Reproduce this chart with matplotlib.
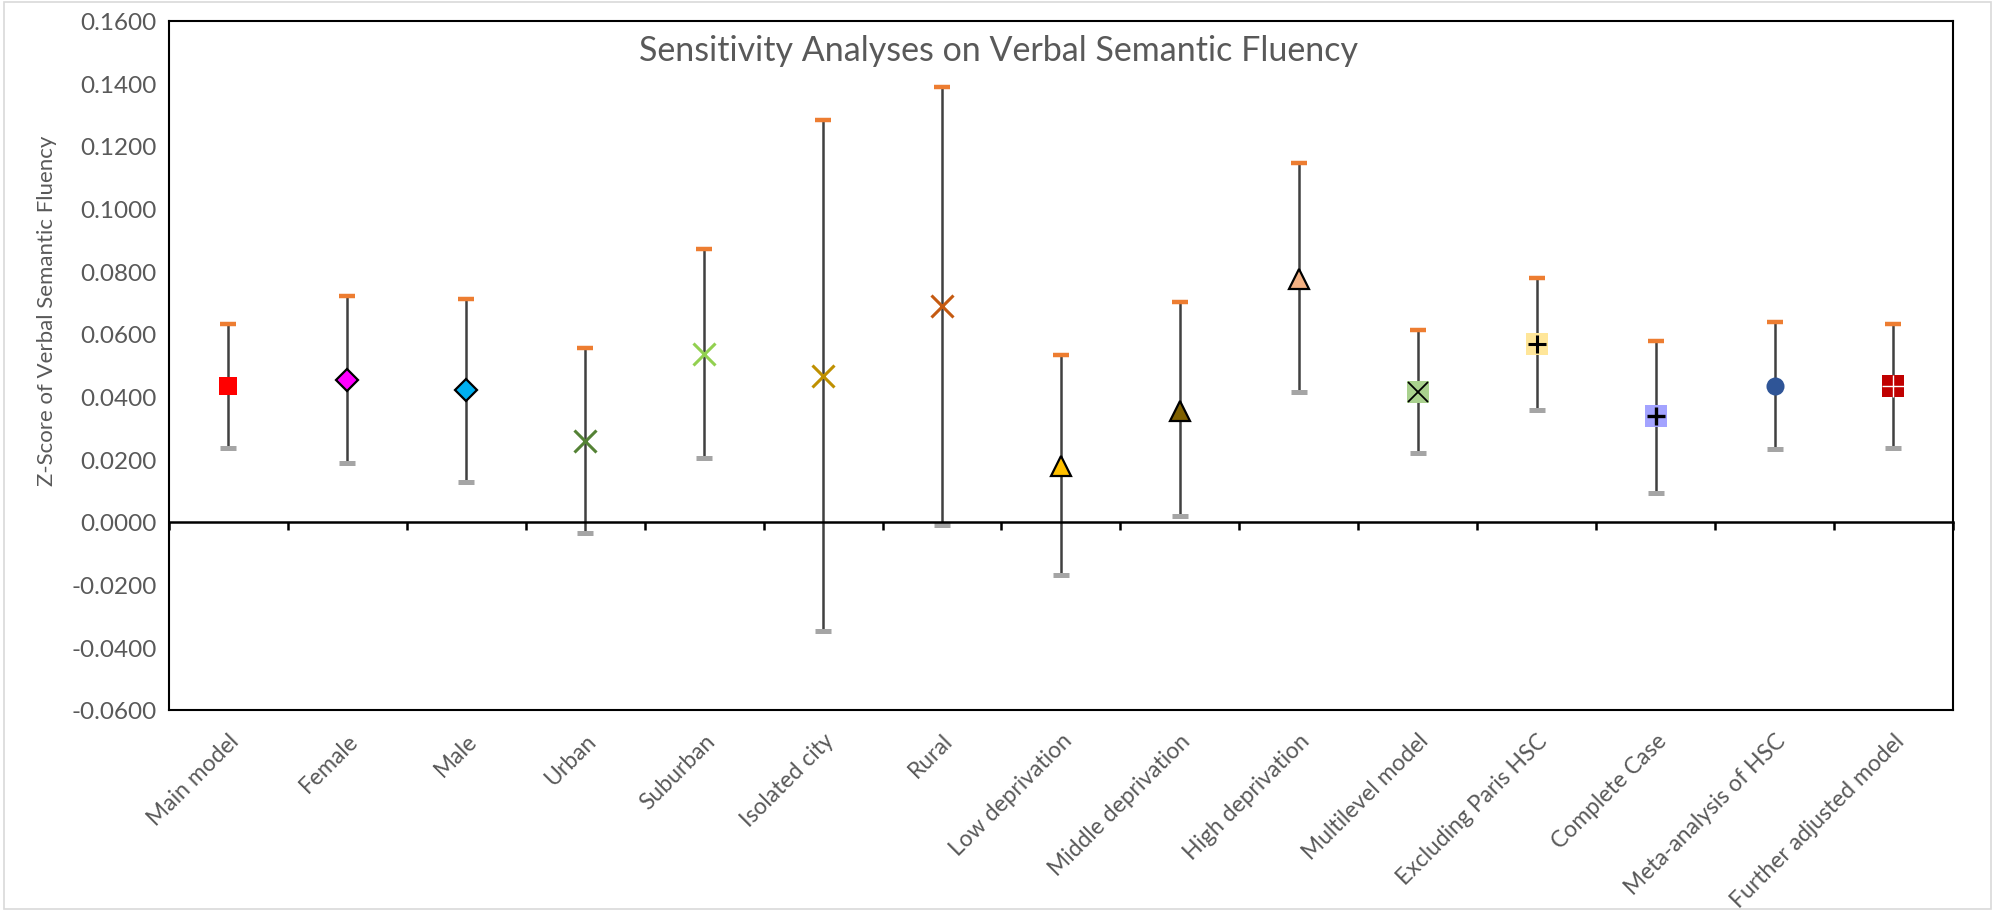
import numpy as np
import matplotlib.pyplot as plt
from matplotlib.patches import Rectangle

plt.rcParams['font.family'] = ['Lato', 'DejaVu Sans']

# Sensitivity analyses: point estimate and 95% CI for each model
labels = ['Main model', 'Female', 'Male', 'Urban', 'Suburban', 'Isolated city',
          'Rural', 'Low deprivation', 'Middle deprivation', 'High deprivation',
          'Multilevel model', 'Excluding Paris HSC', 'Complete Case',
          'Meta-analysis of HSC', 'Further adjusted model']
estimate = [0.0434, 0.0454, 0.0420, 0.0260, 0.0536, 0.0466, 0.0690, 0.0180,
            0.0355, 0.0776, 0.0415, 0.0567, 0.0338, 0.0435, 0.0435]
ci_upper = [0.0633, 0.0722, 0.0713, 0.0556, 0.0871, 0.1283, 0.1387, 0.0533,
            0.0701, 0.1147, 0.0612, 0.0778, 0.0579, 0.0638, 0.0633]
ci_lower = [0.0236, 0.0188, 0.0127, -0.0036, 0.0203, -0.0349, -0.0011, -0.0168,
            0.0018, 0.0416, 0.0219, 0.0357, 0.0094, 0.0232, 0.0236]

# marker, face colour, edge colour, size, edge width, optional overlay (marker, colour, size, width)
styles = [
    ('s', '#FF0000', 'none', 13, 0, None),
    ('D', '#FF00FF', 'black', 11, 1.6, None),
    ('D', '#00B0F0', 'black', 11, 1.6, None),
    ('x', '#548235', '#548235', 16, 2.2, None),
    ('x', '#92D050', '#92D050', 16, 2.2, None),
    ('x', '#BF9000', '#BF9000', 16, 2.2, None),
    ('x', '#C55A11', '#C55A11', 16, 2.2, None),
    ('^', '#FFC000', 'black', 15, 1.6, None),
    ('^', '#7F6000', 'black', 15, 1.6, None),
    ('^', '#F4B183', 'black', 15, 1.6, None),
    ('s', '#A9D18E', 'none', 16, 0, ('x', 'black', 15, 1.3)),
    ('s', '#FFE699', 'none', 16, 0, ('+', 'black', 13, 2.2)),
    ('s', '#A3A3FF', 'none', 16, 0, ('+', 'black', 13, 2.4)),
    ('o', '#2F5597', 'none', 13, 0, None),
    ('s', '#C00000', 'none', 16, 0, ('+', 'white', 16, 1.0)),
]

x = np.arange(1, len(labels) + 1)
text_grey = '#595959'

fig = plt.figure(figsize=(19.95, 9.12), dpi=100)
ax = fig.add_axes([0.0847, 0.2204, 0.8942, 0.7559])

# confidence interval lines and caps
ax.vlines(x, ci_lower, ci_upper, color='#404040', lw=1.8, zorder=2)
ax.plot(x, ci_upper, ls='none', marker='_', ms=11, mew=3.2, color='#ED7D31', zorder=3)
ax.plot(x, ci_lower, ls='none', marker='_', ms=12, mew=3.6, color='#A5A5A5', zorder=3)

for xi, yi, (m, fc, ec, ms, mew, over) in zip(x, estimate, styles):
    ax.plot(xi, yi, ls='none', marker=m, ms=ms, mfc=fc, mec=ec if ec != 'none' else fc,
            mew=mew, zorder=4)
    if over is not None:
        om, oc, oms, omw = over
        ax.plot(xi, yi, ls='none', marker=om, ms=oms, color=oc, mew=omw, zorder=5)

ax.set_xlim(0.5, len(labels) + 0.5)
ax.set_ylim(-0.06, 0.16)
ax.set_yticks(np.arange(-0.06, 0.1601, 0.02))
ax.yaxis.set_major_formatter(plt.FormatStrFormatter('%.4f'))
ax.tick_params(axis='y', length=0, pad=9, labelsize=17.5, labelcolor=text_grey)

ax.set_xticks(x)
ax.set_xticklabels(labels, rotation=45, ha='right', va='top', rotation_mode='anchor')
ax.tick_params(axis='x', length=0, pad=14, labelsize=16.5, labelcolor=text_grey)

for s in ax.spines.values():
    s.set_linewidth(1.5)
    s.set_color('black')

# horizontal axis at zero with category boundary ticks
zero_ax = ax.twiny()
zero_ax.set_xlim(ax.get_xlim())
zero_ax.spines['bottom'].set_position(('data', 0))
zero_ax.spines['bottom'].set_linewidth(1.8)
for side in ['top', 'left', 'right']:
    zero_ax.spines[side].set_visible(False)
zero_ax.xaxis.set_ticks_position('bottom')
zero_ax.set_xticks(np.arange(0.5, len(labels) + 1, 1.0))
zero_ax.tick_params(axis='x', direction='out', length=6, width=1.8, labelbottom=False,
                    labeltop=False, color='black')

ax.set_ylabel('Z-Score of Verbal Semantic Fluency', fontsize=16, color=text_grey)
ax.yaxis.set_label_coords(-0.063, 0.58)
ax.text(0.465, 0.957, 'Sensitivity Analyses on Verbal Semantic Fluency', transform=ax.transAxes,
        ha='center', va='center', fontsize=24.5, color=text_grey)

fig.patches.append(Rectangle((0.002, 0.002), 0.996, 0.995, transform=fig.transFigure,
                             fill=False, ec='#D9D9D9', lw=1.2))

fig.savefig('out.png', dpi=100)
